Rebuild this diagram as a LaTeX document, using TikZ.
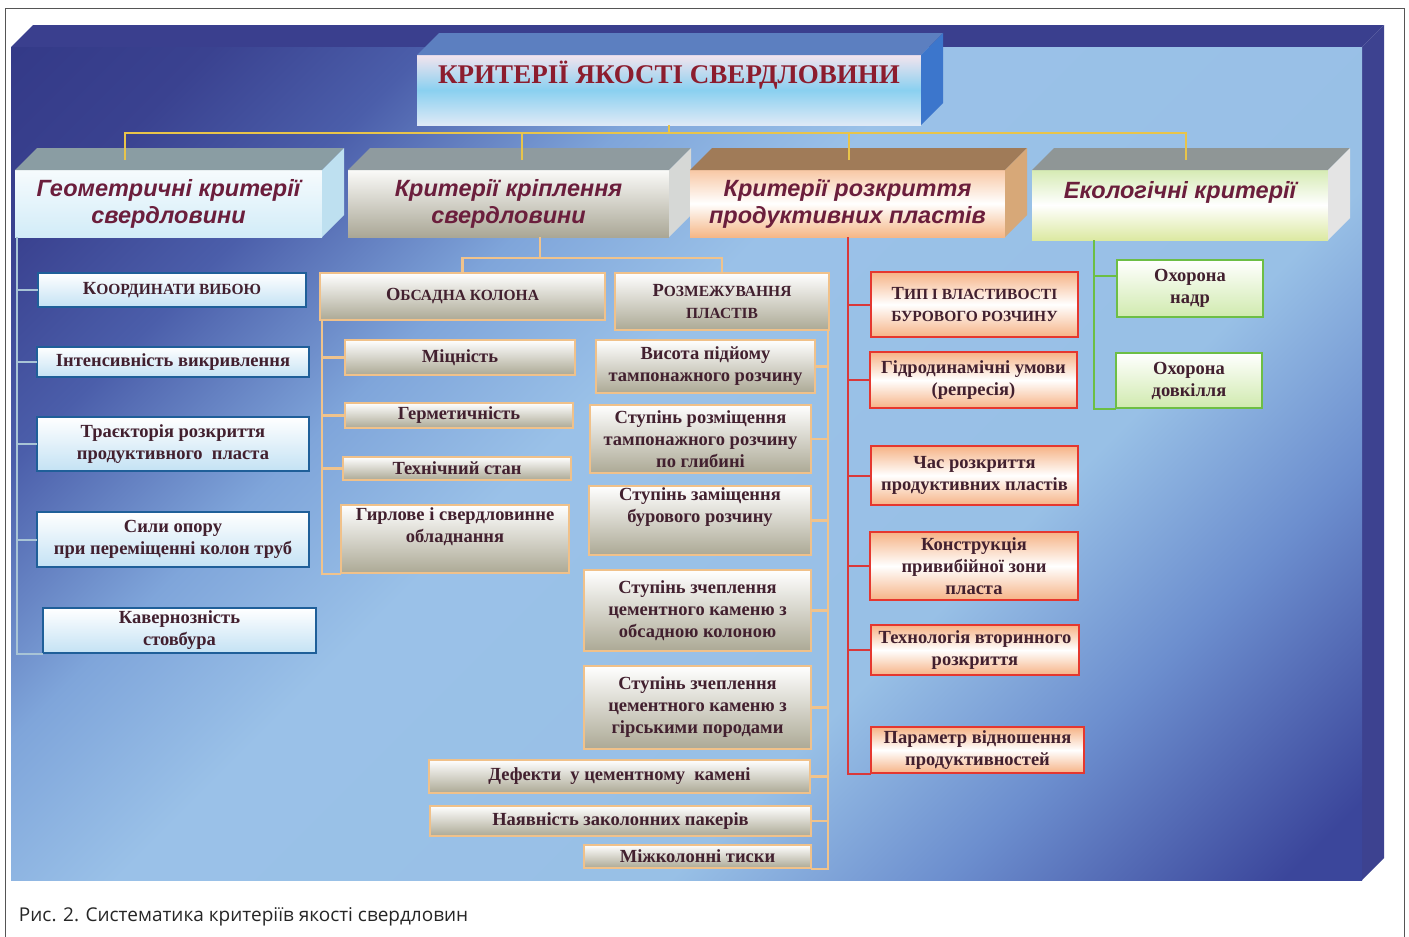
\documentclass[tikz,border=0pt]{standalone}
\usepackage{fontspec}
\setmainfont{Liberation Serif}
\newfontfamily\lsans{Liberation Sans}
\newfontfamily\capfont{Open Sans}
\usetikzlibrary{calc}

\definecolor{pnA}{HTML}{343A88}
\definecolor{pnB}{HTML}{3A4290}
\definecolor{pnC}{HTML}{4B5EAA}
\definecolor{pnD}{HTML}{7FA5DA}
\definecolor{pnE}{HTML}{9AC1E8}
\definecolor{pnF}{HTML}{98C0E6}
\definecolor{pnG}{HTML}{6C8ECE}
\definecolor{pnH}{HTML}{3B469B}
\definecolor{pnTop}{HTML}{3A3F8E}
\definecolor{pnSide}{HTML}{3D4290}
\definecolor{framec}{HTML}{555555}
\definecolor{txtc}{HTML}{42202F}
\definecolor{lvlc}{HTML}{6B1E3C}
\definecolor{titc}{HTML}{8C1D2E}
\definecolor{geoB}{HTML}{1F5F99}
\definecolor{geoF}{HTML}{C4E2F4}
\definecolor{geoL}{HTML}{A8C4D6}
\definecolor{krB}{HTML}{F0C18A}
\definecolor{krF}{HTML}{ACA995}
\definecolor{krL}{HTML}{F0C38C}
\definecolor{rkB}{HTML}{E5372F}
\definecolor{rkF}{HTML}{F6B386}
\definecolor{rkL}{HTML}{D9383A}
\definecolor{ecoB}{HTML}{6DBE45}
\definecolor{ecoF}{HTML}{D0EAAE}
\definecolor{ecoL}{HTML}{6CBF44}
\definecolor{yelL}{HTML}{E8C44A}
% title and level-2 colours
\definecolor{tiT}{HTML}{F3E4EE}
\definecolor{tiM}{HTML}{8AD0F0}
\definecolor{tiB}{HTML}{DEE9F6}
\definecolor{tiTop}{HTML}{5C7FC0}
\definecolor{tiSide}{HTML}{3C76CC}
\definecolor{g2T}{HTML}{F6FBFD}
\definecolor{g2B}{HTML}{D2ECF8}
\definecolor{g2Top}{HTML}{8A9DA3}
\definecolor{g2Side}{HTML}{BEE0F0}
\definecolor{k2T}{HTML}{FAFAF8}
\definecolor{k2B}{HTML}{AAA796}
\definecolor{k2Top}{HTML}{8F9B9F}
\definecolor{k2Side}{HTML}{D6D8D6}
\definecolor{r2T}{HTML}{F8C8A5}
\definecolor{r2B}{HTML}{F5B787}
\definecolor{r2Top}{HTML}{A07B58}
\definecolor{r2Side}{HTML}{D7A878}
\definecolor{e2T}{HTML}{D6EBB4}
\definecolor{e2B}{HTML}{DCE9A2}
\definecolor{e2Top}{HTML}{8F9696}
\definecolor{e2Side}{HTML}{E4E4E4}

\pgfdeclarehorizontalshading{panelsh}{100bp}{color(0bp)=(pnA); color(14.6bp)=(pnA); color(21bp)=(pnB); color(28bp)=(pnC); color(37bp)=(pnD); color(45bp)=(pnE); color(63bp)=(pnF); color(72bp)=(pnG); color(83bp)=(pnH); color(100bp)=(pnH)}

\newcommand\smc[2]{{\fontsize{#1}{#1}\selectfont #2}}
\newcommand\boxfaces[3]{%
  \fill[#2] (#1.north west) -- ++(22,-22) -- ($(#1.north east)+(22,-22)$) -- (#1.north east) -- cycle;
  \fill[#3] (#1.north east) -- ++(22,-22) -- ($(#1.south east)+(22,-22)$) -- (#1.south east) -- cycle;}

\tikzset{
  every node/.style={outer sep=0pt, inner sep=2pt},
  ctext/.style={text=txtc, font=\bfseries\fontsize{18.5}{22}\selectfont, align=center},
  gch/.style={ctext, draw=geoB, line width=1.8pt, top color=white, bottom color=geoF},
  kch/.style={ctext, draw=krB, line width=2pt, top color=white, bottom color=krF},
  rch/.style={ctext, draw=rkB, line width=2pt, top color=rkF, bottom color=rkF, middle color=white},
  ech/.style={ctext, draw=ecoB, line width=2pt, top color=white, bottom color=ecoF},
  lvl/.style={text=lvlc, font=\lsans\bfseries\itshape\fontsize{23.5}{27}\selectfont, align=center, inner sep=0pt},
  geol/.style={draw=geoL, line width=2pt},
  krl/.style={draw=krL, line width=2.4pt},
  rkl/.style={draw=rkL, line width=2pt},
  ecol/.style={draw=ecoL, line width=2pt},
  yel/.style={draw=yelL, line width=2.4pt},
}

\begin{document}
\begin{tikzpicture}[x=1pt,y=-1pt]
\useasboundingbox (0,0) rectangle (1409,937);
\fill[white] (0,0) rectangle (1409,937);
\draw[framec, line width=1pt] (5,937) -- (5,8) -- (1404,8) -- (1404,937);

% panel
\fill[pnTop] (11,47) -- (33,25) -- (1384,25) -- (1362,47) -- cycle;
\fill[pnSide] (1362,47) -- (1384,25) -- (1384,858) -- (1362,880) -- cycle;
\shade[shading=panelsh, shading angle=-45] (11,47) rectangle (1362,880);

% title
\node[top color=tiT, bottom color=tiB, middle color=tiM,
  minimum width=504, minimum height=70, text=titc, font=\bfseries\fontsize{27}{30}\selectfont,
  text height=18pt, text depth=31pt] (title) at (669,90) {КРИТЕРІЇ ЯКОСТІ СВЕРДЛОВИНИ};
\boxfaces{title}{tiTop}{tiSide}

% level 2
\node[lvl, top color=g2T, bottom color=g2B, minimum width=307, minimum height=67] (geo) at (168.5,203.5) {Геометричні критерії\\свердловини};
\boxfaces{geo}{g2Top}{g2Side}

\node[lvl, top color=k2T, bottom color=k2B, minimum width=321, minimum height=67] (kr) at (508.5,203.5) {Критерії кріплення\\свердловини};
\boxfaces{kr}{k2Top}{k2Side}

\node[lvl, top color=r2T, bottom color=r2B, middle color=white, minimum width=315, minimum height=67] (rk) at (847.5,203.5) {Критерії розкриття\\продуктивних пластів};
\boxfaces{rk}{r2Top}{r2Side}

\node[lvl, top color=e2T, bottom color=e2B, middle color=white,
  minimum width=296, minimum height=70, text height=17pt, text depth=30pt] (eco) at (1180,205) {Екологічні критерії};
\boxfaces{eco}{e2Top}{e2Side}

% yellow connectors
\coordinate (k1) at (125,160);
\coordinate (k2) at (522,160);
\coordinate (k3) at (849,160);
\coordinate (k4) at (1186,160);
\draw[yel] (title.south) -- ++(0,8) coordinate (jt);
\draw[yel] (k1) -- (k1 |- jt) -| (k4);
\draw[yel] (k2) -- (k2 |- jt);
\draw[yel] (k3) -- (k3 |- jt);

% geometric children
\node[gch, minimum width=268, minimum height=34] (g1) at (172,290) {К\smc{15.5}{ООРДИНАТИ ВИБОЮ}};
\node[gch, minimum width=272, minimum height=30] (g2) at (173,362) {Інтенсивність викривлення};
\node[gch, minimum width=272, minimum height=54] (g3) at (173,444) {Траєкторія розкриття\\продуктивного\ \ пласта};
\node[gch, minimum width=272, minimum height=55] (g4) at (173,539.5) {Сили опору\\при переміщенні колон труб};
\node[gch, minimum width=273, minimum height=45] (g5) at (179.5,630.5) {Кавернозність\\стовбура};
\coordinate (gd) at ($(geo.south west)+(2,0)$);
\draw[geol] (gd) |- ([yshift=-1]g5.south west);
\foreach \n in {g1,g2,g3,g4} \draw[geol] (\n.west) -- (\n.west -| gd);

% kriplennia children
\node[kch, minimum width=285, minimum height=47] (ob) at (462.5,296.5) {О\smc{15.5}{БСАДНА КОЛОНА}};
\node[kch, minimum width=214, minimum height=57] (rz) at (722,301.5) {Р\smc{15.5}{ОЗМЕЖУВАННЯ}\\\smc{15.5}{ПЛАСТІВ}};
\coordinate (kd) at ($(kr.south)+(31.5,0)$);
\draw[krl] (kd) -- ++(0,21);
\draw[krl] (ob.north) -- ++(0,-15) -| (rz.north);

\node[kch, minimum width=230, minimum height=35] (m1) at (460,357.5) {Міцність};
\node[kch, minimum width=228, minimum height=25] (m2) at (459,415.5) {Герметичність};
\node[kch, minimum width=228, minimum height=23] (m3) at (457,468.5) {Технічний стан};
\node[kch, minimum width=228, minimum height=68] (m4) at (455,539) {Гирлове і свердловинне\\обладнання\\[6pt]};
\coordinate (oL) at ($(ob.south west)+(2,0)$);
\draw[krl] (oL) |- ([yshift=-1]m4.south west);
\foreach \n in {m1,m2,m3} \draw[krl] (\n.west) -- (\n.west -| oL);

\node[kch, minimum width=219, minimum height=53] (r1) at (705.5,366.5) {Висота підйому\\тампонажного розчину};
\node[kch, minimum width=221, minimum height=68] (r2) at (700.5,439) {Ступінь розміщення\\тампонажного розчину\\по глибині};
\node[kch, minimum width=222, minimum height=67] (r3) at (700,520.5) {Ступінь заміщення\\бурового розчину\\[8pt]};
\node[kch, minimum width=227, minimum height=81] (r4) at (697.5,610.5) {Ступінь зчеплення\\цементного каменю з\\обсадною колоною};
\node[kch, minimum width=227, minimum height=83] (r5) at (697.5,707.5) {Ступінь зчеплення\\цементного каменю з\\гірськими породами};
\node[kch, minimum width=381, minimum height=33] (r6) at (619.5,776.5) {Дефекти\ \ у цементному\ \ камені};
\node[kch, minimum width=381, minimum height=30] (r7) at (620.5,821) {Наявність заколонних пакерів};
\node[kch, minimum width=227, minimum height=23] (r8) at (697.5,856.5) {Міжколонні тиски};
\coordinate (rR) at ($(rz.south east)+(-1,0)$);
\draw[krl] (rR) |- ([yshift=-1]r8.south east);
\foreach \n in {r1,r2,r3,r4,r5,r6,r7} \draw[krl] (\n.east) -- (\n.east -| rR);

% rozkryttia children
\node[rch, minimum width=207, minimum height=65] (p1) at (974.5,304.5) {Т\smc{15.5}{ИП І ВЛАСТИВОСТІ}\\\smc{15.5}{БУРОВОГО РОЗЧИНУ}};
\node[rch, minimum width=207, minimum height=56] (p2) at (973.5,380) {Гідродинамічні умови\\(репресія)};
\node[rch, minimum width=207, minimum height=59] (p3) at (974.5,475.5) {Час розкриття\\продуктивних пластів};
\node[rch, minimum width=208, minimum height=68] (p4) at (974,566) {Конструкція\\привибійної зони\\пласта};
\node[rch, minimum width=208, minimum height=50] (p5) at (975,650) {Технологія вторинного\\розкриття};
\node[rch, minimum width=213, minimum height=46] (p6) at (977.5,750) {Параметр відношення\\продуктивностей};
\draw[rkl] (rk.south) |- ([yshift=-1]p6.south west);
\foreach \n in {p1,p2,p3,p4,p5} \draw[rkl] (\n.west) -- (\n.west -| rk.south);

% eco children
\node[ech, minimum width=146, minimum height=57] (e1) at (1190,288.5) {Охорона\\надр};
\node[ech, minimum width=146, minimum height=55] (e2) at (1189,380.5) {Охорона\\довкілля};
\coordinate (ed) at ($(eco.south west)+(62,0)$);
\draw[ecol] (ed) |- ([yshift=-1]e2.south west);
\draw[ecol] ([yshift=13]e1.west) -- ([yshift=13]e1.west -| ed);

% caption
\node[anchor=west, inner sep=0pt, text=black!85, font=\capfont\fontsize{19}{21}\selectfont] (cap) at (19,917) {Рис. 2. Систематика критеріїв якості свердловин};
\end{tikzpicture}
\end{document}
